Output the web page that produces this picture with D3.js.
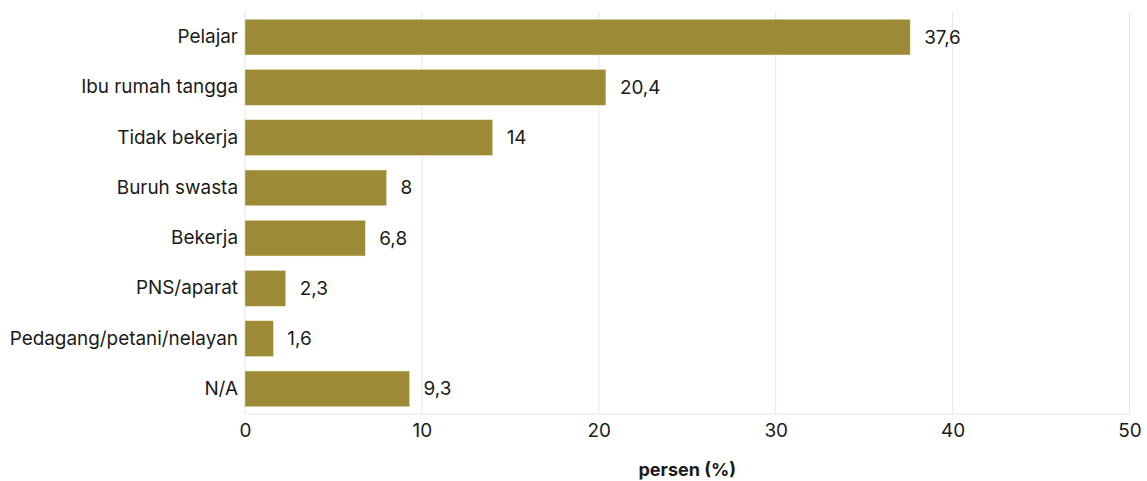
<!DOCTYPE html>
<html><head><meta charset="utf-8">
<script src="https://cdn.jsdelivr.net/npm/d3@7"></script>
<style>
body{margin:0;background:#fff;}
svg text{font-family:Inter,"Noto Sans",sans-serif;}
</style></head><body>
<svg id="c" width="1147" height="481"></svg>
<script>
const categories = ["Pelajar","Ibu rumah tangga","Tidak bekerja","Buruh swasta","Bekerja","PNS/aparat","Pedagang/petani/nelayan","N/A"];
const values = [37.6,20.4,14,8,6.8,2.3,1.6,9.3];
const valueLabels = ["37,6","20,4","14","8","6,8","2,3","1,6","9,3"];
const xTicks = [0,10,20,30,40,50];
const xTitle = "persen (%)";

const FS = 18.9;
const svg = d3.select("#c");
const m = {left:245, right:1147-1129.5, top:12, bottom:481-414};
const W = 1147, H = 481;
const x = d3.scaleLinear().domain([0,50]).range([m.left, W-m.right]);
const y = d3.scaleBand().domain(categories).range([m.top, H-m.bottom]).paddingInner(0.29).paddingOuter(0.145);

// grid
svg.append("g").selectAll("line").data(xTicks).join("line")
  .attr("x1",d=>x(d)).attr("x2",d=>x(d)).attr("y1",m.top).attr("y2",H-m.bottom)
  .attr("stroke","#e6e6e6").attr("stroke-width",1);
svg.append("line").attr("x1",x(0)).attr("x2",x(50)).attr("y1",H-m.bottom).attr("y2",H-m.bottom)
  .attr("stroke","#e6e6e6");

// bars
svg.append("g").selectAll("rect").data(values).join("rect")
  .attr("x",x(0)).attr("y",(d,i)=>y(categories[i]))
  .attr("width",d=>x(d)-x(0)).attr("height",y.bandwidth())
  .attr("fill","#9c8a36").attr("stroke","#e8e0c0").attr("stroke-width",0.5);

// value labels
svg.append("g").selectAll("text").data(values).join("text")
  .attr("x",d=>x(d)+14).attr("y",(d,i)=>y(categories[i])+y.bandwidth()/2)
  .attr("dy","0.35em").attr("font-size",FS).attr("fill","#1a1a1a")
  .text((d,i)=>valueLabels[i]);

// y axis labels
const ya = svg.append("g").attr("transform",`translate(${m.left},0)`)
  .call(d3.axisLeft(y).tickSize(0).tickPadding(7));
ya.select(".domain").remove();
ya.selectAll("text").attr("font-size",FS).attr("fill","#1a1a1a").style("font-family","Inter,'Noto Sans',sans-serif");

// x axis
const xa = svg.append("g").attr("transform",`translate(0,${H-m.bottom})`)
  .call(d3.axisBottom(x).tickValues(xTicks).tickSize(0).tickPadding(10));
xa.select(".domain").remove();
xa.selectAll("text").attr("font-size",FS).attr("fill","#1a1a1a").style("font-family","Inter,'Noto Sans',sans-serif");

svg.append("text").attr("x",(x(0)+x(50))/2).attr("y",470).attr("dy","0.35em")
  .attr("text-anchor","middle").attr("font-size",18).attr("font-weight","bold").attr("fill","#1a1a1a")
  .text(xTitle);
</script>
</body></html>
